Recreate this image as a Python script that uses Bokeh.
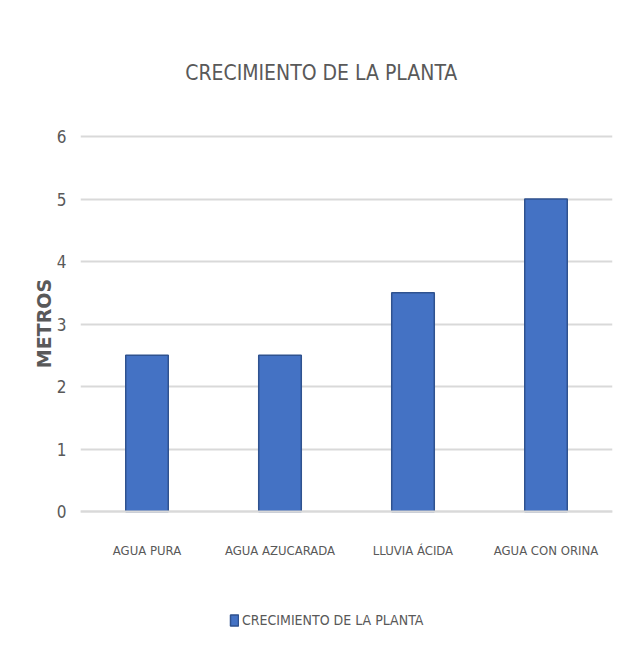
from bokeh.plotting import figure
from bokeh.models import Legend, LegendItem, FactorRange, Range1d, FixedTicker, Label
from bokeh.embed import file_html
from bokeh.resources import INLINE

categories = ["AGUA PURA", "AGUA AZUCARADA", "LLUVIA ÁCIDA", "AGUA CON ORINA"]
values = [2.5, 2.5, 3.5, 5.0]
y_ticks = [0, 1, 2, 3, 4, 5, 6]
title_text = "CRECIMIENTO DE LA PLANTA"
series_name = "CRECIMIENTO DE LA PLANTA"
y_label = "METROS"

FONT = "DejaVu Sans Condensed"
GREY = "#595959"

p = figure(width=618, height=656, x_range=FactorRange(*categories, range_padding=0),
           y_range=Range1d(-2.032, 8.048), output_backend="svg", toolbar_location=None,
           min_border_left=80, min_border_right=6, min_border_top=8, min_border_bottom=18)
p.outline_line_color = None
p.background_fill_color = "white"

r = p.vbar(x=categories, top=values, width=0.32, fill_color="#4472C4",
           line_color="#2F528F", line_width=1.5)

p.xgrid.grid_line_color = None
p.ygrid.grid_line_color = "#d9d9d9"
p.ygrid.grid_line_width = 2

p.yaxis.ticker = FixedTicker(ticks=y_ticks)
p.yaxis.axis_line_color = None
p.yaxis.major_tick_line_color = None
p.yaxis.minor_tick_line_color = None
p.yaxis.major_label_text_font = FONT
p.yaxis.major_label_text_font_size = "17px"
p.yaxis.major_label_text_color = GREY
p.yaxis.major_label_standoff = 8
p.yaxis.axis_label = y_label
p.yaxis.axis_label_text_font = "DejaVu Sans"
p.yaxis.axis_label_text_font_style = "bold"
p.yaxis.axis_label_text_font_size = "19px"
p.yaxis.axis_label_text_color = GREY
p.yaxis.axis_label_standoff = -1

p.xaxis.fixed_location = 0
p.xaxis.axis_line_color = "#d9d9d9"
p.xaxis.axis_line_width = 2
p.xaxis.major_tick_line_color = None
p.xaxis.minor_tick_line_color = None
p.xaxis.major_label_text_font = FONT
p.xaxis.major_label_text_font_size = "13px"
p.xaxis.major_label_text_color = GREY
p.xaxis.major_label_standoff = 25

title = Label(x=1.81, y=7.02, text=title_text, text_align="center", text_baseline="middle",
              text_font=FONT, text_font_size="21px", text_color=GREY)
p.add_layout(title)

legend = Legend(items=[LegendItem(label=series_name, renderers=[r])],
                location=(149, 10), orientation="horizontal",
                label_text_font=FONT, label_text_font_size="14px", label_text_color=GREY,
                glyph_width=10, glyph_height=14, label_standoff=3,
                border_line_color=None, background_fill_alpha=0, padding=2, margin=0)
p.add_layout(legend, "center")

open("out.html", "w").write(file_html(p, INLINE))
